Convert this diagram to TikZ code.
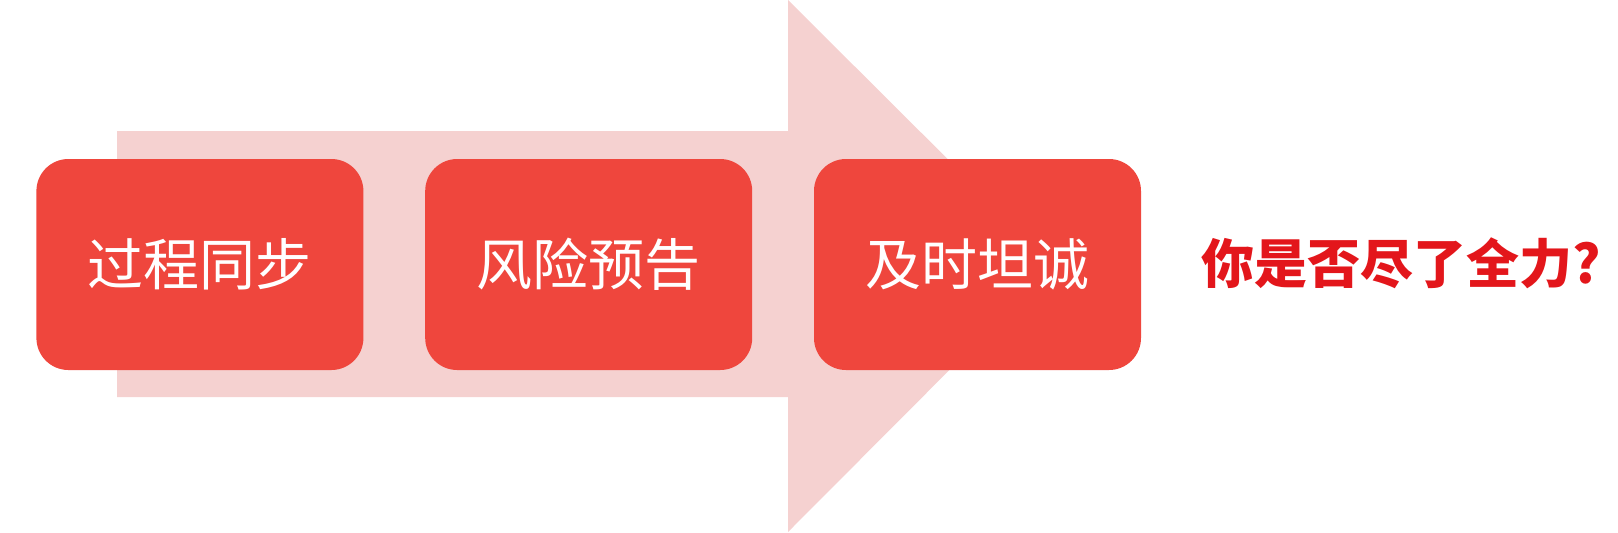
\documentclass[tikz,border=0pt]{standalone}
\usepackage{fontspec}
\setmainfont{Noto Sans CJK SC}
\usetikzlibrary{positioning}
\definecolor{stepred}{HTML}{EF463D}
\definecolor{shaftpink}{HTML}{F5D1D0}
\definecolor{askred}{HTML}{E3161B}
\tikzset{
  stage/.style={fill=stepred, rounded corners=16pt, minimum width=163.5pt,
                minimum height=105.5pt, inner sep=0pt, text=white,
                font=\fontsize{28}{32}\selectfont},
  ask/.style={inner sep=0pt, text=askred, font=\fontsize{26.5}{30}\selectfont\bfseries},
}
\begin{document}
\begin{tikzpicture}[x=0.5pt, y=-0.5pt, node distance=30.5pt]
    \useasboundingbox (0,0) rectangle (1618,532);
    % big arrow behind the steps
    \fill[shaftpink] (117,131) -- (788,131) -- (788,0) -- (1054,265) -- (788,532) -- (788,397) -- (117,397) -- cycle;

    \node[stage, anchor=west] (sync) at (36,264.5) {过程同步};
    \node[stage, right=of sync] (risk) {风险预告};
    \node[stage, right=of risk] (honest) {及时坦诚};

    \node[ask, anchor=west] (effort) at (1201,263) {你是否尽了全力?};
\end{tikzpicture}
\end{document}
